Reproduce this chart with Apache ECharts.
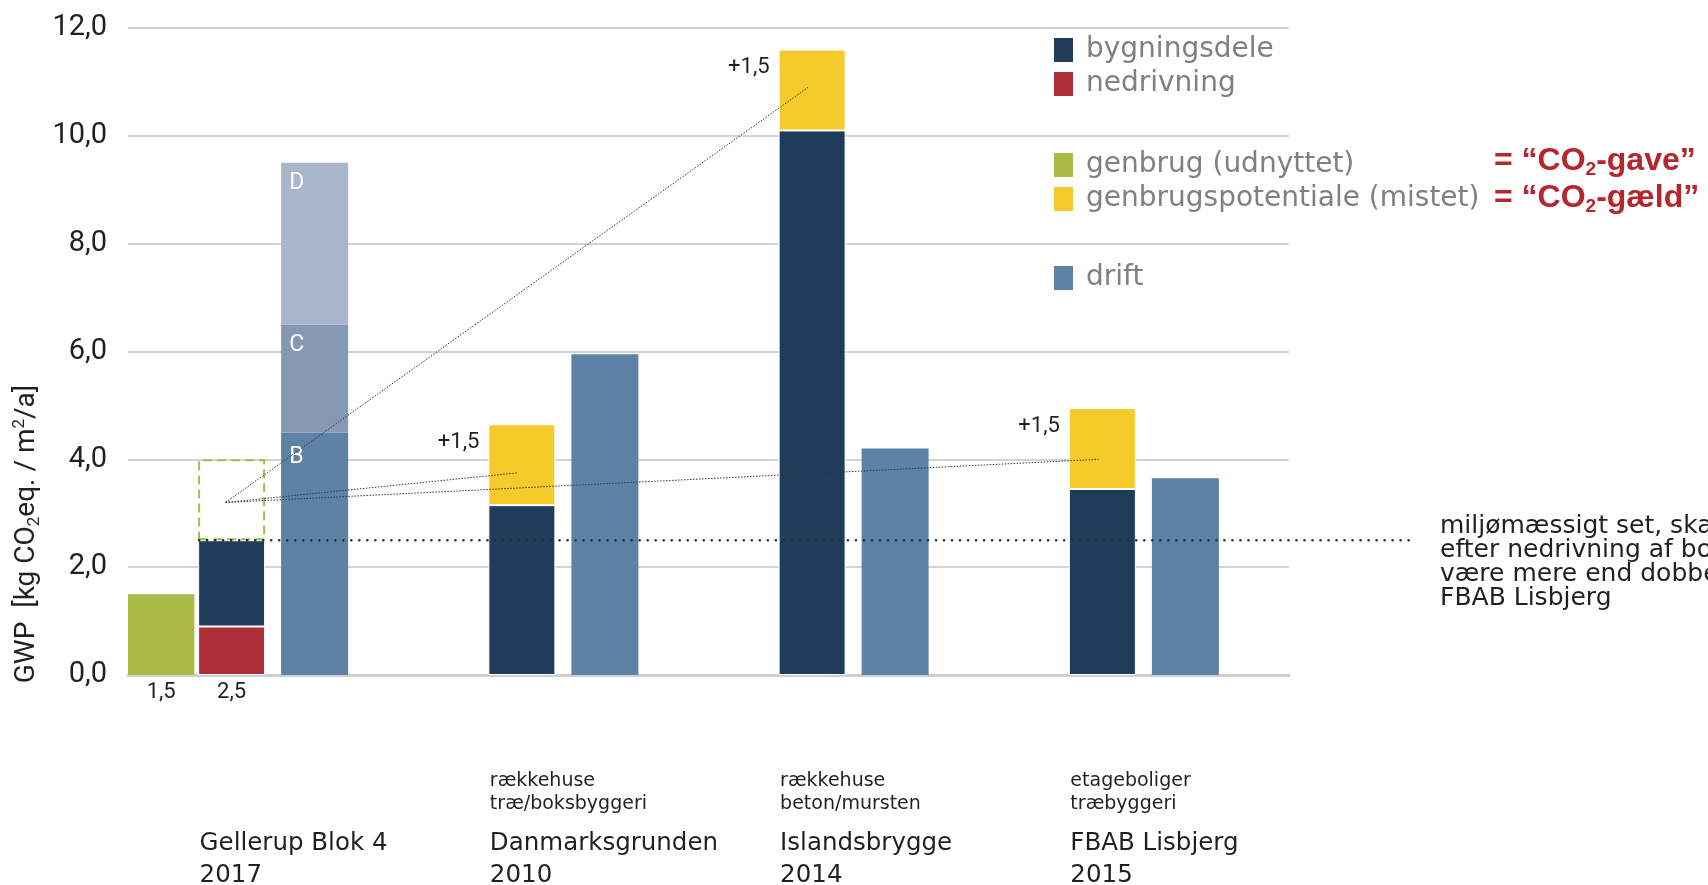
<!DOCTYPE html>
<html><head><meta charset="utf-8">
<script src="https://cdn.jsdelivr.net/npm/echarts@6/dist/echarts.min.js"></script>
<style>html,body{margin:0;padding:0;background:#fff}#c{width:1708px;height:885px}</style>
</head><body><div id="c"></div>
<script>
// ---------- DATA ----------
const categories = ['Gellerup Blok 4', 'Danmarksgrunden', 'Islandsbrygge', 'FBAB Lisbjerg'];
const years = ['2017', '2010', '2014', '2015'];
const subLabels = [[], ['rækkehuse', 'træ/boksbyggeri'], ['rækkehuse', 'beton/mursten'], ['etageboliger', 'træbyggeri']];
const genbrug = [1.5, null, null, null];
const nedrivning = [0.9, null, null, null];
const bygningsdele = [1.6, 3.15, 10.1, 3.45];
const genbrugspotentiale = [1.5, 1.5, 1.5, 1.5];   // Gellerup: only the potential (dashed)
const driftB = [4.5, 5.95, 4.2, 3.65];
const driftC = [2.0, null, null, null];
const driftD = [3.0, null, null, null];
const driftLetters = ['B', 'C', 'D'];
const yMin = 0, yMax = 12, yStep = 2;
const threshold = 2.5;
const linkSource = 3.2;
const linkTargets = [null, 3.75, 10.9, 4.0];
const noteLines = ['miljømæssigt set, ska', 'efter nedrivning af bo', 'være mere end dobbe', 'FBAB Lisbjerg'];
const redNotes = [['= “CO', '2', '-gave”'], ['= “CO', '2', '-gæld”']];

// ---------- STYLE ----------
const C = {navy:'#1f3c5a', red:'#ad3038', green:'#abbb48', yellow:'#f5cb2c', drift:'#5e82a6', driftC:'#8599b5', driftD:'#a8b5ca'};
const fmt = v => v.toFixed(1).replace('.', ',');
const BW = 67;
const txt = '#231f20';

const chart = echarts.init(document.getElementById('c'), null, {renderer: 'canvas'});

const barBase = {type: 'bar', barWidth: BW, barGap: '23.9%', xAxisIndex: 0, yAxisIndex: 0};
const legendCommon = {orient: 'vertical', left: 1054, padding: 0, itemWidth: 19, itemHeight: 24, itemGap: 6,
  selectedMode: false, icon: 'rect', itemStyle: {borderWidth: 0},
  textStyle: {fontFamily: 'DejaVu Sans', fontSize: 28, lineHeight: 24, color: '#808080', padding: [0, 0, 0, 8]}};

const option = {
  animation: false,
  grid: {left: 128, right: 419, top: 28, bottom: 210},
  xAxis: [
    {type: 'category', data: categories, axisLabel: {show: false}, axisTick: {show: false},
     axisLine: {show: true, lineStyle: {color: '#cfcfcf', width: 3}}},
    {type: 'category', data: categories, show: false}
  ],
  yAxis: {type: 'value', min: yMin, max: yMax, interval: yStep,
    axisLine: {show: false}, axisTick: {show: false},
    splitLine: {lineStyle: {color: '#d3d3d3', width: 2}},
    axisLabel: {formatter: v => fmt(v), fontFamily: 'Roboto', fontSize: 29, color: txt, margin: 21}},
  legend: [
    Object.assign({}, legendCommon, {top: 36, data: ['bygningsdele', 'nedrivning']}),
    Object.assign({}, legendCommon, {top: 151, data: ['genbrug (udnyttet)', 'genbrugspotentiale (mistet)']}),
    Object.assign({}, legendCommon, {top: 264, data: ['drift']})
  ],
  series: [
    {type: 'bar', name: 'genbrug (udnyttet)', xAxisIndex: 1, yAxisIndex: 0, stack: 'g', barWidth: BW, barGap: '235%',
     data: genbrug, itemStyle: {color: C.green},
     label: {show: true, position: 'bottom', distance: 6, formatter: p => fmt(p.value), fontFamily: 'Roboto', fontSize: 22, color: txt}},
    {type: 'bar', name: 'dummy', xAxisIndex: 1, yAxisIndex: 0, stack: 'dummy', barWidth: BW, barGap: '235%',
     data: [null, null, null, null]},
    Object.assign({}, barBase, {name: 'nedrivning', stack: 'a', data: nedrivning,
     itemStyle: {color: C.red, borderColor: '#fff', borderWidth: 1},
     label: {show: true, position: 'bottom', distance: 6, formatter: p => fmt(nedrivning[p.dataIndex] + bygningsdele[p.dataIndex]),
       fontFamily: 'Roboto', fontSize: 22, color: txt}}),
    Object.assign({}, barBase, {name: 'bygningsdele', stack: 'a', data: bygningsdele,
     itemStyle: {color: C.navy, borderColor: '#fff', borderWidth: 1}}),
    Object.assign({}, barBase, {name: 'genbrugspotentiale (mistet)', stack: 'a',
     data: genbrugspotentiale.map((v, i) => i === 0 ? {value: v,
        itemStyle: {color: 'rgba(0,0,0,0)', borderColor: C.green, borderWidth: 2, borderType: [9, 5]},
        label: {show: false}} : v),
     itemStyle: {color: C.yellow, borderColor: '#fff', borderWidth: 1},
     label: {show: true, position: [-9, 18], align: 'right', verticalAlign: 'middle',
       formatter: p => '+' + fmt(p.value), fontFamily: 'Roboto', fontSize: 22, color: txt}}),
    Object.assign({}, barBase, {name: 'drift', stack: 'd',
     data: driftB.map((v, i) => i === 0 ? {value: v, label: {show: true, formatter: driftLetters[0]}} : v),
     itemStyle: {color: C.drift},
     label: {show: false, position: [8, 25], align: 'left', verticalAlign: 'middle', fontFamily: 'Roboto', fontSize: 23, color: '#fff'}}),
    Object.assign({}, barBase, {name: 'driftC', stack: 'd',
     data: driftC.map((v, i) => i === 0 ? {value: v, label: {show: true, formatter: driftLetters[1]}} : v),
     itemStyle: {color: C.driftC},
     label: {show: false, position: [8, 21], align: 'left', verticalAlign: 'middle', fontFamily: 'Roboto', fontSize: 23, color: '#fff'}}),
    Object.assign({}, barBase, {name: 'driftD', stack: 'd',
     data: driftD.map((v, i) => i === 0 ? {value: v, label: {show: true, formatter: driftLetters[2]}} : v),
     itemStyle: {color: C.driftD},
     label: {show: false, position: [8, 20], align: 'left', verticalAlign: 'middle', fontFamily: 'Roboto', fontSize: 23, color: '#fff'}})
  ]
};
chart.setOption(option);

// ---------- annotations placed from the library's layout ----------
const model = chart.getModel();
function rectOf(si, di) {
  const l = model.getSeriesByIndex(si).getData().getItemLayout(di);
  return {left: Math.min(l.x, l.x + l.width), right: Math.max(l.x, l.x + l.width),
          top: Math.min(l.y, l.y + l.height), bottom: Math.max(l.y, l.y + l.height)};
}
const yPx = v => chart.convertToPixel({yAxisIndex: 0}, v);
const cols = categories.map((c, i) => rectOf(3, i));
const g = [];

categories.forEach((c, i) => {
  const r = cols[i];
  if (subLabels[i].length) {
    g.push({type: 'text', x: r.left + 1.5, y: 769, z: 100,
      style: {text: subLabels[i].join('\n'), fontFamily: 'DejaVu Sans', fontSize: 19, lineHeight: 23.5,
              fill: txt, align: 'left', verticalAlign: 'top'}});
  }
  g.push({type: 'text', x: r.left + 1.5, y: 828, z: 100,
    style: {text: c + '\n' + years[i], fontFamily: 'DejaVu Sans', fontSize: 24.5, lineHeight: 31.5,
            fill: txt, align: 'left', verticalAlign: 'top'}});
});

// y-axis title
g.push({type: 'text', x: 27, y: 534, rotation: Math.PI / 2, z: 100,
  style: {text: '{a|GWP  [kg CO}{s|2}{a|eq. / m}{p|2}{a|/a]}', align: 'center', verticalAlign: 'middle',
    rich: {a: {fontFamily: 'Roboto', fontSize: 28, lineHeight: 32, fill: txt},
           s: {fontFamily: 'Roboto', fontSize: 17, lineHeight: 17, verticalAlign: 'bottom', fill: txt},
           p: {fontFamily: 'Roboto', fontSize: 17, lineHeight: 17, verticalAlign: 'top', fill: txt}}}});

// dotted links from Gellerup's lost potential to the other projects
const src = [(cols[0].left + cols[0].right) / 2 - 6, yPx(linkSource)];
linkTargets.forEach((v, i) => {
  if (v == null) return;
  const tx = (cols[i].left + cols[i].right) / 2 - 4;
  g.push({type: 'line', z: 120, shape: {x1: src[0], y1: src[1], x2: tx, y2: yPx(v)},
    style: {stroke: '#333', lineWidth: 1, lineDash: [1.5, 1.5]}});
});

// threshold dotted line
const ty = yPx(threshold);
g.push({type: 'line', z: 120, shape: {x1: cols[0].left + 1, y1: ty, x2: 1413, y2: ty},
  style: {stroke: '#2a2a2a', lineWidth: 2.6, lineCap: 'round', lineDash: [0.01, 8]}});

// note text
g.push({type: 'text', x: 1440, y: 515, z: 100,
  style: {text: noteLines.join('\n'), fontFamily: 'DejaVu Sans', fontSize: 25, lineHeight: 23.9,
          fill: txt, align: 'left', verticalAlign: 'top'}});

// red notes
const redY = [161, 198];
redNotes.forEach((n, i) => {
  g.push({type: 'text', x: 1494, y: redY[i], z: 100,
    style: {text: '{t|' + n[0] + '}{s|' + n[1] + '}{t|' + n[2] + '}', align: 'left', verticalAlign: 'middle',
      rich: {t: {fontFamily: 'Liberation Sans', fontWeight: 'bold', fontSize: 32, lineHeight: 36, fill: '#b5262d'},
             s: {fontFamily: 'Liberation Sans', fontWeight: 'bold', fontSize: 19, lineHeight: 14, verticalAlign: 'bottom', fill: '#b5262d'}}}});
});

chart.setOption({graphic: {elements: g}});
</script></body></html>
